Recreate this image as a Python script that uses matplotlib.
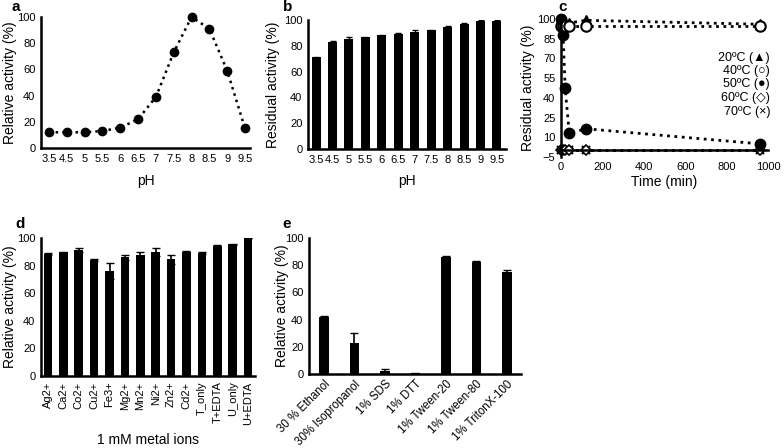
import matplotlib
matplotlib.use("Agg")
from matplotlib import pyplot as plt

plt.rcParams['font.family'] = ['Liberation Sans', 'DejaVu Sans']

# a: pH optimum
ph_labels = ['3.5', '4.5', '5', '5.5', '6', '6.5', '7', '7.5', '8', '8.5', '9', '9.5']
ph_activity = [12, 12, 12, 13, 15.5, 22, 39, 73, 100, 91, 59, 15]

# b: pH stability
ph_residual = [71, 83, 85, 86.5, 88, 89.5, 91, 92, 94.5, 97, 99.5, 99.5]
ph_residual_err = [0.5, 0.5, 1.5, 0.5, 0.5, 0.5, 1.2, 0.5, 0.8, 0.5, 0.5, 0.5]

# c: thermostability
time_min = [0, 10, 20, 40, 120, 960]
t20 = [100, 100, 98, 97, 99, 96]
t40 = [95, 95, 95, 95, 95, 95]
t50 = [100, 88, 47.5, 13, 16.5, 5]
t60 = [0, 0, 0, 0, 0, 0]
t70 = [0, 0, 0, 0, 0, 0]
temp_legend = ['20ºC (▲)', '40ºC (○)', '50ºC (●)', '60ºC (◇)', '70ºC (×)']

# d: metal ions
metals = ['Ag2+', 'Ca2+', 'Co2+', 'Cu2+', 'Fe3+', 'Mg2+', 'Mn2+', 'Ni2+', 'Zn2+',
          'Cd2+', 'T_only', 'T+EDTA', 'U_only', 'U+EDTA']
metal_activity = [88.5, 89.5, 91, 84, 76, 86, 87.5, 90, 84.5, 89.5, 89, 94.5, 95.5, 100]
metal_err = [0.5, 0.5, 1.5, 0.5, 6, 2, 2.5, 3, 3.5, 1, 0.5, 0.5, 0.5, 0.3]

# e: solvents / detergents
reagents = ['30 % Ethanol', '30% Isopropanol', '1% SDS', '1% DTT', '1% Tween-20',
            '1% Tween-80', '1% TritonX-100']
reagent_activity = [42, 23, 2, 0.5, 86, 82.5, 75]
reagent_err = [0.3, 7, 1.5, 0.3, 0.7, 0.5, 1.5]

W, H = 784, 448
fig = plt.figure(figsize=(W / 100, H / 100), dpi=100)


def px_axes(left, right, top, bottom):
    ax = fig.add_axes([left / W, 1 - bottom / H, (right - left) / W, (bottom - top) / H])
    ax._px = (left, right, top, bottom)
    return ax


def style(ax):
    for s in ['top', 'right']:
        ax.spines[s].set_visible(False)
    for s in ['left', 'bottom']:
        ax.spines[s].set_linewidth(1.8)
    ax.tick_params(length=0, labelsize=8, pad=4)


def ylabel_at(ax, text, px):
    left, right, top, bottom = ax._px
    ax.set_ylabel(text, fontsize=10, va='center')
    ax.yaxis.set_label_coords((px - left) / (right - left), 0.5)


def xlabel_at(ax, text, py):
    left, right, top, bottom = ax._px
    ax.set_xlabel(text, fontsize=10, va='center')
    ax.xaxis.set_label_coords(0.5, (bottom - py) / (bottom - top))


def panel(label, px, py):
    fig.text(px / W, 1 - py / H, label, fontsize=11, fontweight='bold',
             va='center', ha='center')


# panel a
ax = px_axes(41, 250, 17, 148)
style(ax)
x = range(len(ph_labels))
ax.plot(x, ph_activity, 'k:', lw=1.8, marker='o', ms=6, clip_on=False)
ax.set_xlim(-0.45, 11.28)
ax.set_ylim(0, 100)
ax.set_xticks(list(x))
ax.set_xticklabels(ph_labels)
ax.set_yticks(range(0, 101, 20))
xlabel_at(ax, 'pH', 181)
ylabel_at(ax, 'Relative activity (%)', 10)
panel('a', 16, 7)

# panel b
ax = px_axes(308, 506, 20, 149)
style(ax)
ax.bar(x, ph_residual, width=0.55, color='k', yerr=ph_residual_err,
       error_kw=dict(ecolor='k', capsize=2, lw=1))
ax.set_xlim(-0.49, 11.55)
ax.set_ylim(0, 100)
ax.set_xticks(list(x))
ax.set_xticklabels(ph_labels)
ax.set_yticks(range(0, 101, 20))
xlabel_at(ax, 'pH', 181)
ylabel_at(ax, 'Residual activity (%)', 273)
panel('b', 288, 7)

# panel c
ax = px_axes(561, 768, 19, 157)
style(ax)
ax.spines['bottom'].set_position(('data', 0))
ax.plot(time_min, t70, 'k:', lw=2, marker='x', ms=6, mew=1.5, clip_on=False)
ax.plot(time_min, t60, 'k:', lw=2, marker='D', ms=5, mfc='white', mec='k', mew=1.2, clip_on=False)
ax.plot(time_min, t20, 'k:', lw=2, marker='^', ms=7, clip_on=False)
ax.plot(time_min, t50, 'k:', lw=2, marker='o', ms=7.5, clip_on=False)
ax.plot(time_min, t40, 'k:', lw=2, marker='o', ms=7.5, mfc='white', mec='k', mew=1.5, clip_on=False)
ax.set_xlim(0, 1000)
ax.set_ylim(-5, 100)
ax.set_yticks(range(-5, 101, 15))
ax.set_xticks(range(0, 1001, 200))
ax.tick_params(axis='x', pad=8)
xlabel_at(ax, 'Time (min)', 182)
ylabel_at(ax, 'Residual activity (%)', 528)
legend_y = [58, 71, 84, 98, 112]
for t, ly in zip(temp_legend, legend_y):
    fig.text(770 / W, 1 - ly / H, t, ha='right', va='center', fontsize=9)
panel('c', 563, 7)

# panel d
ax = px_axes(41, 255, 238, 376)
style(ax)
xd = range(len(metals))
ax.bar(xd, metal_activity, width=0.55, color='k', yerr=metal_err,
       error_kw=dict(ecolor='k', capsize=3, lw=1.2))
ax.set_xlim(-0.45, 13.45)
ax.set_ylim(0, 100)
ax.set_xticks(list(xd))
ax.set_xticklabels(metals, rotation=90)
ax.set_yticks(range(0, 101, 20))
xlabel_at(ax, '1 mM metal ions', 440)
ylabel_at(ax, 'Relative activity (%)', 10)
panel('d', 20, 224)

# panel e
ax = px_axes(309, 521, 238, 374)
style(ax)
xe = range(len(reagents))
ax.bar(xe, reagent_activity, width=0.32, color='k', yerr=reagent_err,
       error_kw=dict(ecolor='k', capsize=3, lw=1.2))
ax.set_xlim(-0.49, 6.46)
ax.set_ylim(0, 100)
ax.set_xticks(list(xe))
ax.set_xticklabels(reagents, rotation=45, ha='right', rotation_mode='anchor')
ax.tick_params(axis='x', pad=3, labelsize=8.3)
ax.set_yticks(range(0, 101, 20))
ylabel_at(ax, 'Relative activity (%)', 282)
panel('e', 287, 224)

fig.savefig('out.png', dpi=100)
